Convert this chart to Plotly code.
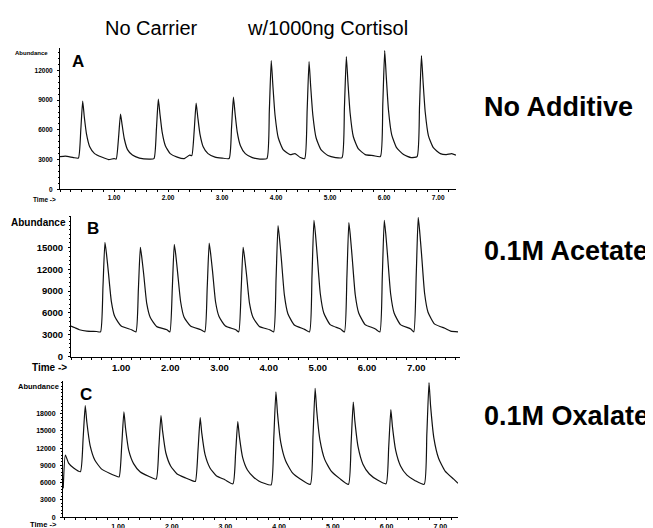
import plotly.graph_objects as go

W, H = 653, 528

# ---------------- data ----------------
# Panel A : No Additive
time_a = [0.00, 0.10, 0.25, 0.34,
          0.385, 0.42, 0.45, 0.49, 0.55, 0.64, 0.77, 0.90, 1.00, 1.04,
          1.085, 1.12, 1.15, 1.19, 1.25, 1.34, 1.47, 1.65, 1.74,
          1.785, 1.82, 1.85, 1.89, 1.95, 2.04, 2.17, 2.30, 2.40, 2.44,
          2.485, 2.52, 2.55, 2.59, 2.65, 2.74, 2.87, 3.00, 3.13,
          3.175, 3.21, 3.24, 3.28, 3.34, 3.43, 3.56, 3.70, 3.83,
          3.875, 3.91, 3.94, 3.98, 4.04, 4.13, 4.26, 4.35, 4.45, 4.53,
          4.575, 4.61, 4.64, 4.68, 4.74, 4.83, 4.96, 5.10, 5.22,
          5.265, 5.30, 5.33, 5.37, 5.43, 5.52, 5.65, 5.80, 5.93,
          5.975, 6.01, 6.04, 6.08, 6.14, 6.23, 6.36, 6.50, 6.61,
          6.655, 6.69, 6.72, 6.76, 6.82, 6.91, 7.04, 7.15, 7.25, 7.33]
abund_a = [3300, 3350, 3200, 3150,
           6000, 8900, 7300, 5600, 4300, 3600, 3250, 3000, 3100, 3050,
           5300, 7600, 6500, 5100, 4000, 3450, 3150, 3050, 3100,
           6100, 9100, 7600, 5800, 4400, 3600, 3250, 3100, 3450, 3400,
           6000, 8700, 7300, 5600, 4300, 3600, 3250, 3150, 3100,
           6200, 9300, 7700, 5800, 4400, 3600, 3200, 3050, 3100,
           8000, 13000, 10500, 7500, 5200, 4000, 3500, 3600, 3200, 3100,
           8000, 12900, 10400, 7500, 5200, 4000, 3400, 3200, 3200,
           8300, 13400, 10800, 7700, 5300, 4100, 3500, 3400, 3300,
           8600, 14000, 11300, 8000, 5500, 4200, 3500, 3200, 3300,
           8400, 13500, 10900, 7800, 5400, 4200, 3600, 3500, 3600, 3450]

# Panel B : 0.1M Acetate
time_b = [-0.02, 0.05, 0.15, 0.30, 0.50, 0.58,
          0.63, 0.67, 0.70, 0.74, 0.80, 0.87, 1.00, 1.21, 1.30,
          1.35, 1.39, 1.42, 1.46, 1.52, 1.59, 1.72, 1.93, 1.99,
          2.04, 2.08, 2.11, 2.15, 2.21, 2.28, 2.41, 2.62, 2.70,
          2.75, 2.79, 2.82, 2.86, 2.92, 2.99, 3.12, 3.33, 3.39,
          3.44, 3.48, 3.51, 3.55, 3.61, 3.68, 3.81, 4.02, 4.10,
          4.15, 4.19, 4.22, 4.26, 4.32, 4.39, 4.52, 4.73, 4.83,
          4.88, 4.92, 4.95, 4.99, 5.05, 5.12, 5.25, 5.46, 5.54,
          5.59, 5.63, 5.66, 5.70, 5.76, 5.83, 5.96, 6.10, 6.17, 6.26,
          6.31, 6.35, 6.38, 6.42, 6.48, 6.55, 6.68, 6.89, 6.95,
          7.00, 7.04, 7.07, 7.11, 7.17, 7.24, 7.37, 7.50, 7.58, 7.70, 7.85]
abund_b = [4200, 4000, 3700, 3500, 3450, 3400,
           9600, 15700, 14200, 11600, 7600, 5500, 4200, 3700, 3400,
           9200, 15000, 13600, 11200, 7300, 5400, 4150, 3700, 3400,
           9400, 15400, 14000, 11400, 7500, 5400, 4200, 3700, 3400,
           9500, 15600, 14100, 11600, 7500, 5500, 4200, 3700, 3400,
           9200, 15000, 13600, 11200, 7300, 5400, 4150, 3700, 3400,
           10700, 18000, 16200, 13200, 8400, 5900, 4350, 3750, 3400,
           11000, 18700, 16900, 13600, 8600, 6000, 4400, 3800, 3400,
           10900, 18400, 16600, 13400, 8500, 6000, 4400, 4000, 3800, 3400,
           11000, 18700, 16900, 13600, 8600, 6000, 4400, 3800, 3400,
           11250, 19100, 17200, 13900, 8700, 6100, 4500, 4100, 3900, 3500, 3400]

# Panel C : 0.1M Oxalate
time_c = [-0.02, 0.02, 0.08, 0.18, 0.30,
          0.35, 0.39, 0.42, 0.48, 0.57, 0.69, 0.85, 0.95, 1.02,
          1.07, 1.11, 1.14, 1.20, 1.29, 1.41, 1.57, 1.71,
          1.76, 1.80, 1.83, 1.89, 1.98, 2.10, 2.26, 2.38, 2.44,
          2.49, 2.53, 2.56, 2.62, 2.71, 2.83, 2.99, 3.14,
          3.19, 3.23, 3.26, 3.32, 3.41, 3.53, 3.62, 3.72, 3.85,
          3.90, 3.94, 3.97, 4.03, 4.12, 4.24, 4.40, 4.58,
          4.63, 4.67, 4.70, 4.76, 4.85, 4.97, 5.13, 5.29,
          5.34, 5.38, 5.41, 5.47, 5.56, 5.68, 5.84, 5.99,
          6.04, 6.08, 6.11, 6.17, 6.26, 6.38, 6.54, 6.70,
          6.75, 6.79, 6.82, 6.88, 6.97, 7.09, 7.25, 7.33]
abund_c = [5000, 10800, 9400, 8500, 7900,
           13600, 19400, 16500, 12500, 9900, 8400, 7600, 7200, 7000,
           12600, 18300, 15500, 11600, 9300, 7900, 7100, 6600,
           12100, 17650, 15000, 11200, 8900, 7500, 6800, 6350, 6200,
           11700, 17300, 14600, 10900, 8600, 7200, 6500, 5800,
           11200, 16600, 14000, 10400, 8200, 6900, 6300, 5900, 5600,
           13700, 21800, 18000, 13000, 9800, 7800, 6600, 5700,
           14000, 22400, 18500, 13400, 10000, 8000, 6700, 5700,
           12800, 20000, 16700, 12200, 9200, 7500, 6400, 5800,
           12200, 18700, 15700, 11600, 8900, 7300, 6300, 5700,
           14500, 23400, 19300, 13800, 10200, 8000, 6600, 5900]

x_tick_vals = [1, 2, 3, 4, 5, 6, 7]
x_tick_text = ["1.00", "2.00", "3.00", "4.00", "5.00", "6.00", "7.00"]
y_ticks_a = [0, 3000, 6000, 9000, 12000]
y_ticks_b = [0, 3000, 6000, 9000, 12000, 15000]
y_ticks_c = [0, 3000, 6000, 9000, 12000, 15000, 18000]

panel_letters = ["A", "B", "C"]
side_labels = ["No Additive", "0.1M Acetate", "0.1M Oxalate"]
top_titles = ["No Carrier", "w/1000ng Cortisol"]

# ---------------- layout helpers ----------------
def px(x):
    return x / W

def py(y):
    return 1 - y / H

FONT = "Liberation Sans, Arial, sans-serif"

fig = go.Figure()
for xs, ys, ax in [(time_a, abund_a, ""), (time_b, abund_b, "2"), (time_c, abund_c, "3")]:
    fig.add_trace(go.Scatter(x=xs, y=ys, mode="lines", xaxis="x" + ax, yaxis="y" + ax,
                             line=dict(color="#111111", width=1.2, shape="spline", smoothing=0.5),
                             showlegend=False, hoverinfo="skip"))

panels = [
    dict(x0=52, x1=448, yb=183, yt=40, xr=[0.0, 7.33], yr=[0, 14300], yt_vals=y_ticks_a, fs=6.5),
    dict(x0=63, x1=452, yb=352, yt=210, xr=[-0.02, 7.89], yr=[0, 19300], yt_vals=y_ticks_b, fs=9.5),
    dict(x0=55, x1=450, yb=514, yt=377, xr=[-0.024, 7.33], yr=[0, 23600], yt_vals=y_ticks_c, fs=7),
]

layout = dict(
    width=W, height=H,
    margin=dict(l=0, r=0, t=0, b=0),
    paper_bgcolor="white", plot_bgcolor="white",
    font=dict(family=FONT, color="black"),
    showlegend=False,
)

for i, p in enumerate(panels):
    sfx = "" if i == 0 else str(i + 1)
    tf = dict(family=FONT, size=p["fs"], color="black", weight="bold")
    layout["xaxis" + sfx] = dict(
        domain=[px(p["x0"]), px(p["x1"])], range=p["xr"], anchor="y" + sfx,
        showgrid=False, zeroline=False, showline=True, linecolor="black", linewidth=1,
        ticks="outside", ticklen=2, tickcolor="black", tickwidth=1,
        tickvals=x_tick_vals, ticktext=x_tick_text, tickfont=tf,
        minor=dict(dtick=0.2, ticks="outside", ticklen=2, tickcolor="black"),
        fixedrange=True,
    )
    layout["yaxis" + sfx] = dict(
        domain=[py(p["yb"]), py(p["yt"])], range=p["yr"], anchor="x" + sfx,
        showgrid=False, zeroline=False, showline=True, linecolor="black", linewidth=1,
        ticks="outside", ticklen=2, tickcolor="black", tickwidth=1,
        tickvals=p["yt_vals"], ticktext=[str(v) for v in p["yt_vals"]],
        tickfont=tf, ticklabelstandoff=3,
        minor=dict(dtick=600, ticks="outside", ticklen=1.5, tickcolor="black"),
        fixedrange=True,
    )

annotations = []
abund_pos = [(42, 45, 6), (60, 217, 10), (53, 382, 7.5)]
time_pos = [(23, 193, 6.5), (22, 363, 10), (20, 521, 7.5)]
for (x, y, s) in abund_pos:
    annotations.append(dict(text="Abundance", x=px(x), y=py(y), xref="paper", yref="paper",
                            xanchor="right", yanchor="middle", showarrow=False,
                            font=dict(family=FONT, size=s, color="black", weight="bold")))
for (x, y, s) in time_pos:
    annotations.append(dict(text="Time ->", x=px(x), y=py(y), xref="paper", yref="paper",
                            xanchor="left", yanchor="middle", showarrow=False,
                            font=dict(family=FONT, size=s, color="black", weight="bold")))
letter_pos = [(70, 54), (85, 223), (78, 390)]
for letter, (x, y) in zip(panel_letters, letter_pos):
    annotations.append(dict(text=letter, x=px(x), y=py(y), xref="paper", yref="paper",
                            xanchor="center", yanchor="middle", showarrow=False,
                            font=dict(family=FONT, size=17, color="black", weight="bold")))
side_pos = [(474, 100), (474, 245), (474, 412)]
for lab, (x, y) in zip(side_labels, side_pos):
    annotations.append(dict(text=lab, x=px(x), y=py(y), xref="paper", yref="paper",
                            xanchor="left", yanchor="middle", showarrow=False,
                            font=dict(family=FONT, size=27, color="black", weight="bold")))
title_pos = [(95, 20), (237, 20)]
for lab, (x, y) in zip(top_titles, title_pos):
    annotations.append(dict(text=lab, x=px(x), y=py(y), xref="paper", yref="paper",
                            xanchor="left", yanchor="middle", showarrow=False,
                            font=dict(family=FONT, size=20, color="black")))

layout["annotations"] = annotations
fig.update_layout(**layout)
fig.write_html("out.html")
